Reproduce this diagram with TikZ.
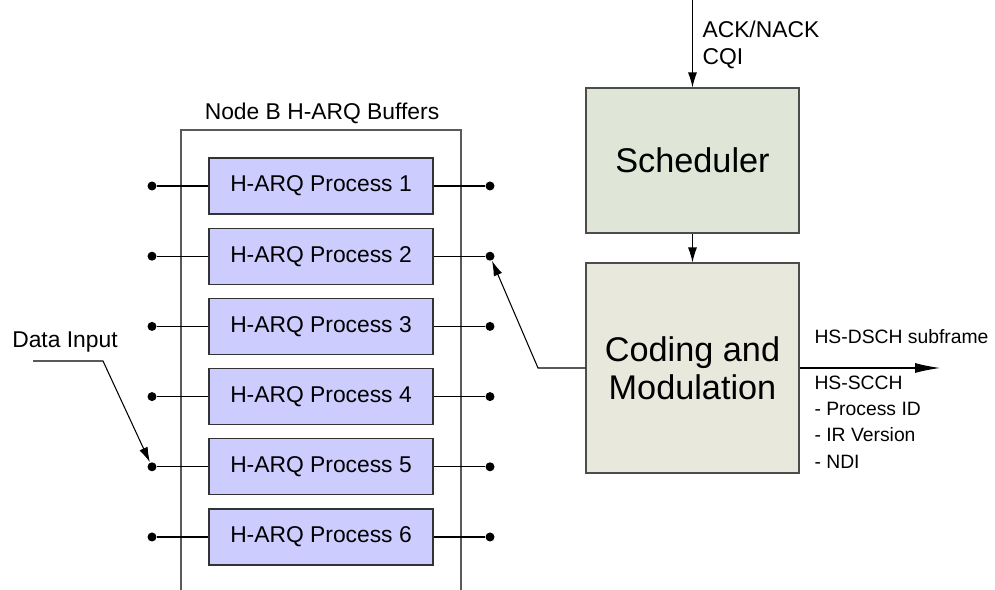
\documentclass[tikz,border=0pt]{standalone}
\usepackage{fontspec}
\setmainfont{Liberation Sans}
\usetikzlibrary{arrows.meta}

\definecolor{procfill}{HTML}{CCCCFF}
\definecolor{schedfill}{HTML}{DFE6D7}
\definecolor{codefill}{HTML}{E8E8DC}
\definecolor{framegray}{HTML}{5A5A5A}

\tikzset{
  proc/.style={draw=black!80, fill=procfill, minimum width=4.48cm, minimum height=1.12cm,
    inner sep=0pt, font=\fontsize{13}{15}\selectfont},
  bigbox/.style={draw=black!70, fill=#1, minimum width=4.26cm, inner sep=0pt, align=center,
    font=\fontsize{19.5}{21.5}\selectfont},
  dot/.style={circle, fill=black, inner sep=0pt, minimum size=0.18cm},
  lbl/.style={inner sep=0pt, align=left},
  tip/.style={-{Latex[length=0.3cm,width=0.18cm]}},
  bigtip/.style={-{Latex[length=0.5cm,width=0.2cm]}}
}

\begin{document}
\begin{tikzpicture}[x=0.02cm, y=-0.02cm, line width=0.6pt]
  \useasboundingbox (0,0) rectangle (995,590);

  % buffer frame, open at the bottom
  \draw[framegray] (181,590) -- (181,130) -- (461,130) -- (461,590);
  \node[font=\fontsize{13}{15}\selectfont] (buftitle) at (322,113) {Node B H-ARQ Buffers};

  % H-ARQ processes
  \foreach \i in {1,...,6} {
    \pgfmathsetmacro{\yy}{186+(\i-1)*70.2}
    \node[proc] (p\i) at (321,\yy) {H-ARQ Process \i};
    \node[dot] (in\i) at (152,\yy) {};
    \node[dot] (out\i) at (490,\yy) {};
    \draw (in\i) -- (p\i.west);
    \draw (p\i.east) -- (out\i);
  }

  % scheduler and coding
  \node[bigbox=schedfill, minimum height=2.9cm] (sch) at (692.5,160.5) {Scheduler};
  \node[bigbox=codefill, minimum height=4.2cm] (cm) at (692.5,368) {Coding and\\Modulation};

  \coordinate (fbin) at (692.5,0);
  \draw[tip] (fbin) -- (sch.north);
  \node[lbl, anchor=west, font=\fontsize{13}{15}\selectfont] (fblbl) at (702,45) {ACK/NACK\\CQI};
  \draw[tip] (sch) -- (cm);

  % data input
  \node[font=\fontsize{13}{15}\selectfont] (datalbl) at (65,342) {Data Input};
  \coordinate (din) at (33,361);
  \draw[tip] (din) -- (103,361) -- (in5);

  % feedback to buffer output
  \draw[tip] (cm.west) -- (538,368) -- (out2);

  % output channel
  \coordinate (hsout) at (940,368);
  \draw[bigtip] (cm.east) -- (hsout);
  \node[lbl, anchor=west, font=\fontsize{11}{15}\selectfont] (dschlbl) at (814,337) {HS-DSCH subframe};
  \node[lbl, anchor=west, font=\fontsize{11}{15}\selectfont] (scchlbl) at (814,422)
    {HS-SCCH\\- Process ID\\- IR Version\\- NDI};
\end{tikzpicture}
\end{document}
